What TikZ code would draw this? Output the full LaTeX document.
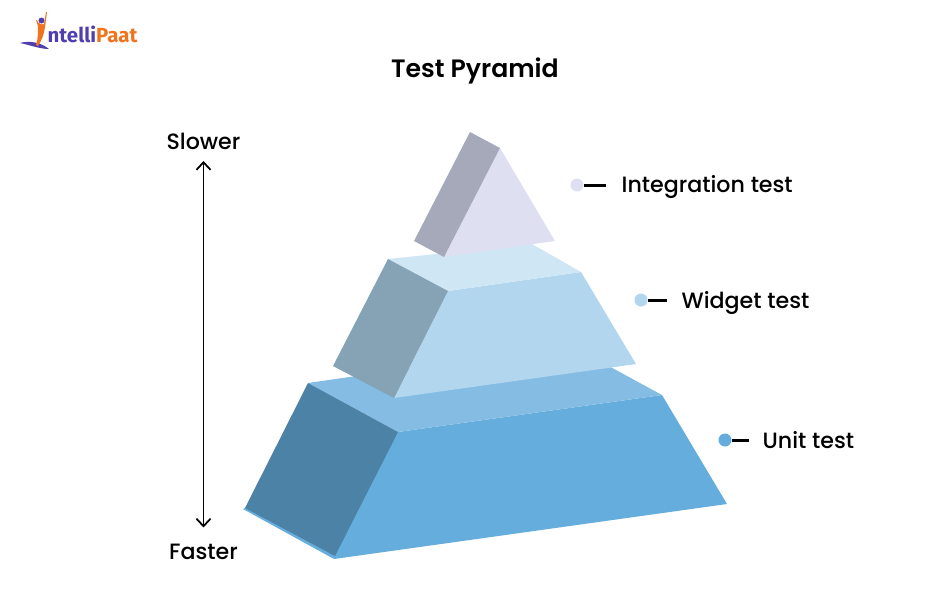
\documentclass[tikz,border=0pt]{standalone}
\usepackage{fontspec}
\usepackage{xcolor}
\usetikzlibrary{arrows.meta}
\setmainfont{Poppins}
\newfontfamily\titlefont{Poppins SemiBold}
\newfontfamily\labelfont{Poppins Medium}
\newfontfamily\logofont{Fira Sans}[BoldFont={Fira Sans Bold}]
\definecolor{unitfront}{RGB}{101, 173, 220}
\definecolor{unittop}{RGB}{132, 188, 227}
\definecolor{unitside}{RGB}{77, 130, 167}
\definecolor{widgetfront}{RGB}{177, 214, 238}
\definecolor{widgettop}{RGB}{207, 230, 245}
\definecolor{widgetside}{RGB}{133, 163, 181}
\definecolor{integfront}{RGB}{222, 224, 242}
\definecolor{integside}{RGB}{166, 169, 186}
\definecolor{logopurple}{RGB}{79, 62, 176}
\definecolor{logoorange}{RGB}{240, 115, 30}
\tikzset{
  labeltext/.style={font=\labelfont\fontsize{6.3pt}{7.5pt}\selectfont, inner sep=0pt, text=black},
  dotnode/.style={circle, minimum size=1.3mm, inner sep=0pt},
  leader/.style={line width=0.85pt, black}
}
\begin{document}
\begin{tikzpicture}[x=0.01cm, y=-0.01cm]
\useasboundingbox (0,0) rectangle (950,605);
% logo
\fill[logopurple] (20,43) .. controls (30,40) and (42,43) .. (49,49) .. controls (40,49) and (30,45) .. (20,43) -- cycle;
\fill[logoorange] (46,12) -- (47,12) -- (45,27) .. controls (44,34) and (42,40) .. (38,46) -- (36,45) .. controls (38,40) and (38,32) .. (38,26) .. controls (37,24) and (36,23) .. (36,20) -- (37,20) .. controls (38,24) and (42,25) .. (44,24) -- cycle;
\fill[logopurple] (41.5,20.5) circle (3);
\node[inner sep=0pt, anchor=west, font=\logofont\bfseries\fontsize{5.8pt}{6pt}\selectfont] (logotext) at (47,34.5) {\textcolor{logopurple}{ntelli}\textcolor{logoorange}{Paat}};
% title
\node[inner sep=0pt, font=\titlefont\fontsize{7.15pt}{8pt}\selectfont] (title) at (475,71) {Test Pyramid};
% speed arrow
\node[labeltext] (slower) at (203.5,141) {Slower};
\node[labeltext] (faster) at (203.5,552) {Faster};
\draw[{Straight Barb[length=0.75mm,width=1.4mm]}-{Straight Barb[length=0.75mm,width=1.4mm]}, line width=0.5pt, shorten >=1.6mm, shorten <=1.1mm] (slower) -- (faster);
% unit test block
\fill[unitfront] (243,509) -- (334,559) -- (727,504) -- (662,395) -- (398,432) -- cycle;
\fill[unittop] (308,383) -- (570,345) -- (662,395) -- (398,432) -- cycle;
\fill[unitside] (308,383) -- (398,432) -- (335,556) -- (245,508) -- cycle;
% widget test block
\fill[widgetfront] (448,291) -- (581,272) -- (636,364) -- (394,398) -- cycle;
\fill[widgettop] (388,259) -- (532,244) -- (581,272) -- (448,291) -- cycle;
\fill[widgetside] (388,259) -- (448,291) -- (394,398) -- (333,366) -- cycle;
% integration test block
\fill[integfront] (500,148) -- (555,241) -- (444,257) -- cycle;
\fill[integside] (470,132) -- (500,148) -- (444,257) -- (414,241) -- cycle;
% legend
\node[dotnode, fill=integfront] (integdot) at (577,185) {};
\node[labeltext, anchor=base west] (integlabel) at (621,192) {Integration test};
\coordinate (integend) at (606,185);
\draw[leader] (integdot.east) -- (integend);
\node[dotnode, fill=widgetfront] (widgetdot) at (641,300) {};
\node[labeltext, anchor=base west] (widgetlabel) at (681,308) {Widget test};
\coordinate (widgetend) at (667,300);
\draw[leader] (widgetdot.east) -- (widgetend);
\node[dotnode, fill=unitfront] (unitdot) at (725,440) {};
\node[labeltext, anchor=base west] (unitlabel) at (762,448) {Unit test};
\coordinate (unitend) at (749,440);
\draw[leader] (unitdot.east) -- (unitend);
\end{tikzpicture}
\end{document}
